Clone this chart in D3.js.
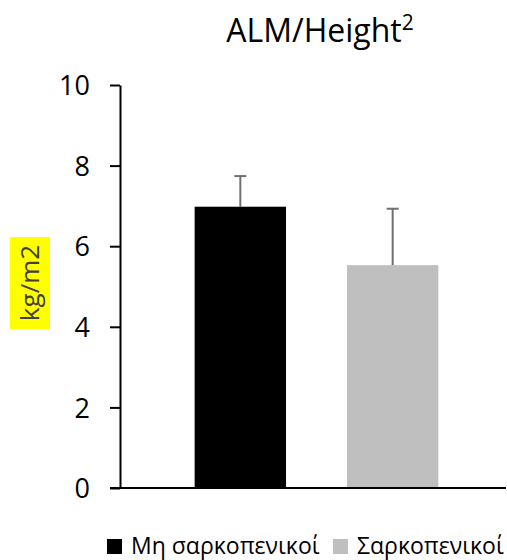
<!DOCTYPE html>
<html>
<head>
<meta charset="utf-8">
<script src="https://cdn.jsdelivr.net/npm/d3@7"></script>
<style>
  body { margin: 0; background: #fff; }
  text { font-family: "Open Sans", "Noto Sans", sans-serif; }
</style>
</head>
<body>
<div id="chart"></div>
<script>
const series = ["Μη σαρκοπενικοί", "Σαρκοπενικοί"];
const values = [6.98, 5.53];
const errors = [0.76, 1.40];
const colors = ["#000000", "#bfbfbf"];
const yTicks = [0, 2, 4, 6, 8, 10];

const width = 507, height = 560;
const margin = { left: 120, top: 85, bottom: 72 };
const plotBottom = height - margin.bottom; // 488

var svg = d3.select("#chart")
    .append("svg")
    .attr("width", width)
    .attr("height", height);

let x = d3.scaleBand()
    .domain(series)
    .range([margin.left, 513])
    .paddingInner(0.4)
    .paddingOuter(0.49);

let y = d3.scaleLinear()
    .domain([0, 10])
    .range([plotBottom, margin.top]);

// bars
svg.selectAll("rect.bar")
    .data(series)
    .enter()
    .append("rect")
    .attr("class", "bar")
    .attr("x", d => x(d))
    .attr("y", (d, i) => y(values[i]))
    .attr("width", x.bandwidth())
    .attr("height", (d, i) => y(0) - y(values[i]))
    .attr("fill", (d, i) => colors[i]);

// error bars (upper only)
let err = svg.selectAll("g.err")
    .data(series)
    .enter()
    .append("g")
    .attr("class", "err")
    .attr("stroke", "#6f6f6f")
    .attr("stroke-width", 2);
err.append("line")
    .attr("x1", d => x(d) + x.bandwidth() / 2)
    .attr("x2", d => x(d) + x.bandwidth() / 2)
    .attr("y1", (d, i) => y(values[i]))
    .attr("y2", (d, i) => y(values[i] + errors[i]));
err.append("line")
    .attr("x1", d => x(d) + x.bandwidth() / 2 - 6)
    .attr("x2", d => x(d) + x.bandwidth() / 2 + 6)
    .attr("y1", (d, i) => y(values[i] + errors[i]))
    .attr("y2", (d, i) => y(values[i] + errors[i]));

// y axis
let yAxis = svg.append("g")
    .attr("transform", `translate(${margin.left},0)`)
    .call(d3.axisLeft(y).tickValues(yTicks).tickSize(10).tickPadding(20).tickSizeOuter(0));
yAxis.select(".domain").attr("stroke", "#000").attr("stroke-width", 2);
yAxis.selectAll(".tick line").attr("stroke", "#000").attr("stroke-width", 2);
yAxis.selectAll(".tick text")
    .style("font-size", "27px")
    .attr("fill", "#000")
    .attr("dy", "0.36em");

// x axis line
svg.append("line")
    .attr("x1", 110)
    .attr("x2", 506)
    .attr("y1", y(0))
    .attr("y2", y(0))
    .attr("stroke", "#000")
    .attr("stroke-width", 2);

// title
let title = svg.append("text")
    .attr("x", 320)
    .attr("y", 42)
    .style("text-anchor", "middle")
    .style("font-size", "32px")
    .attr("fill", "#000");
title.append("tspan").text("ALM/Height");
title.append("tspan").text("2").style("font-size", "21px").attr("dy", "-12");

// y label with yellow highlight
svg.append("rect")
    .attr("x", 10)
    .attr("y", 237)
    .attr("width", 40)
    .attr("height", 92)
    .attr("fill", "#ffff00");
svg.append("text")
    .attr("transform", "translate(39,283) rotate(-90)")
    .style("text-anchor", "middle")
    .style("font-size", "26px")
    .attr("fill", "#404040")
    .text("kg/m2");

// legend
const legendX = [107, 333];
let legend = svg.selectAll("g.legend")
    .data(series)
    .enter()
    .append("g")
    .attr("class", "legend")
    .attr("transform", (d, i) => `translate(${legendX[i]},538)`);
legend.append("rect")
    .attr("y", 1)
    .attr("width", 15)
    .attr("height", 15)
    .attr("fill", (d, i) => colors[i]);
legend.append("text")
    .attr("x", 24)
    .attr("y", 16)
    .style("font-size", "23px")
    .attr("fill", "#000")
    .text(d => d);
</script>
</body>
</html>
